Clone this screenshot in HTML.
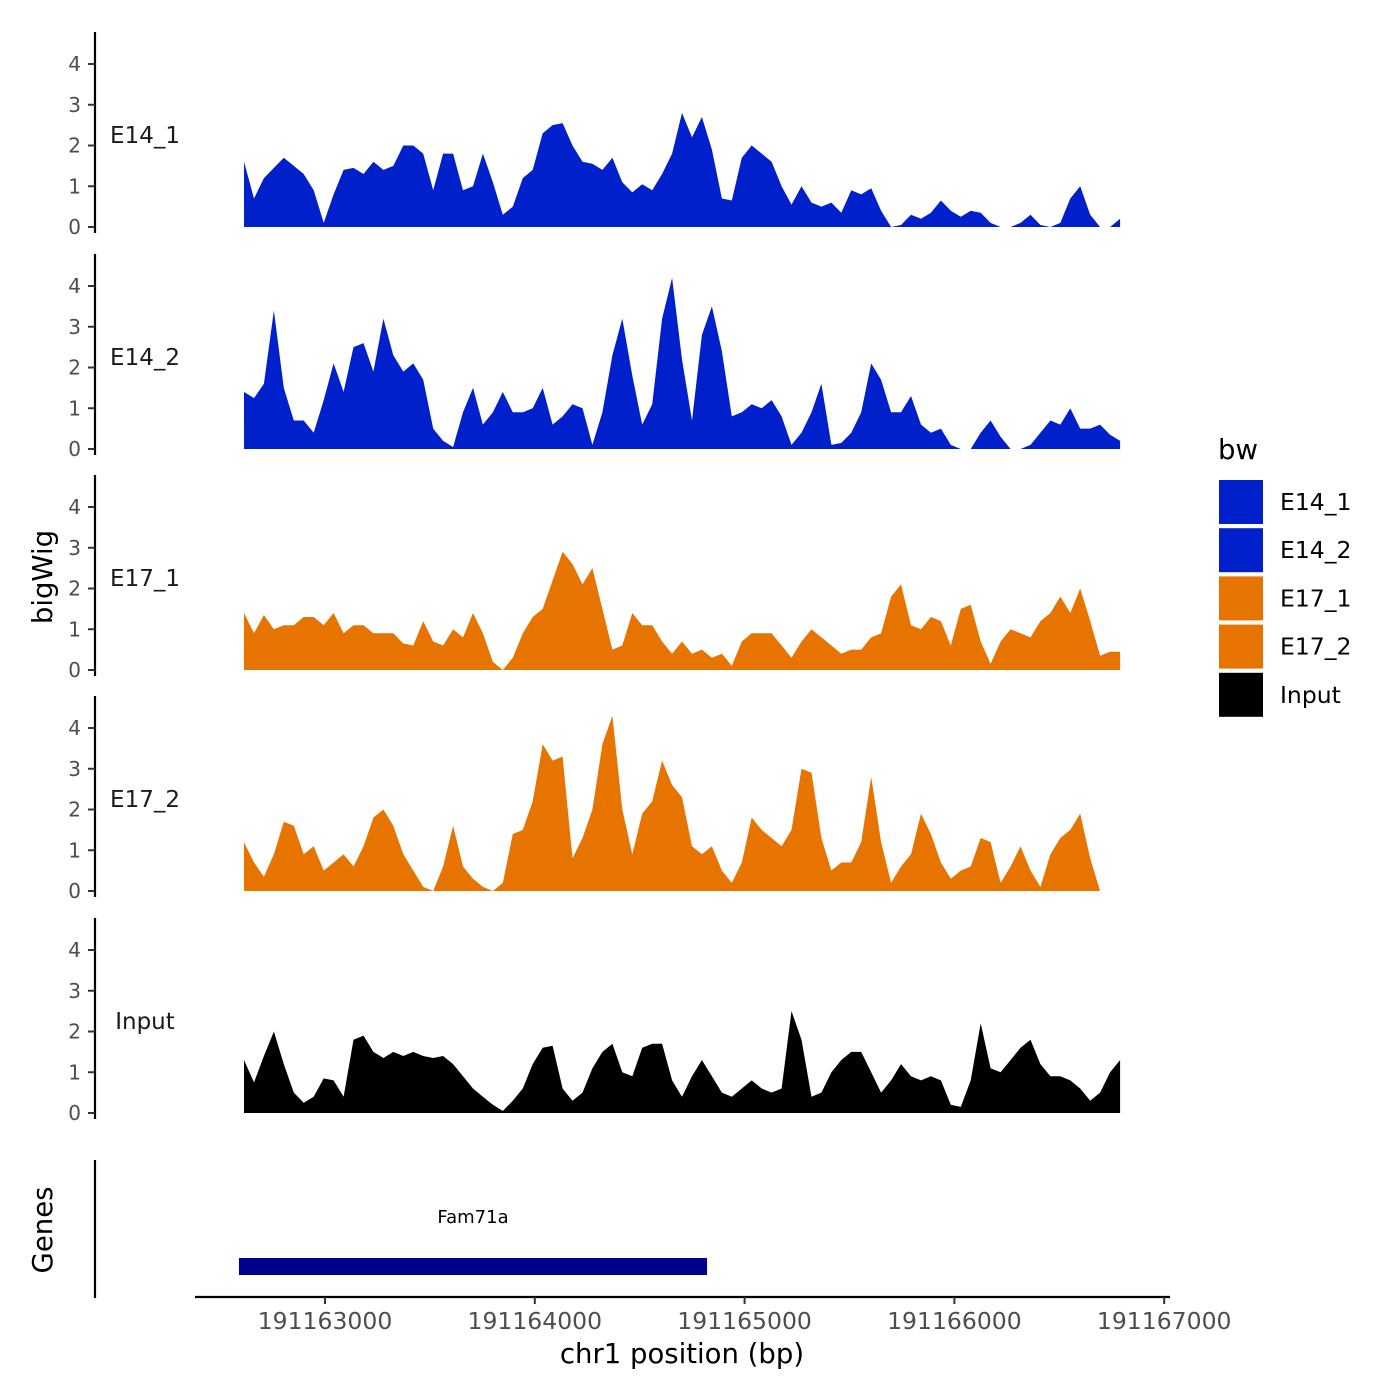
<!DOCTYPE html>
<html><head><meta charset="utf-8"><style>
body{margin:0;background:#fff}
svg{display:block;font-family:"DejaVu Sans","Liberation Sans",sans-serif}
</style></head><body>
<svg id="c" width="1400" height="1400" xmlns="http://www.w3.org/2000/svg"></svg>
<script>
const trackNames = ["E14_1","E14_2","E17_1","E17_2","Input"];
const trackColors = ["#0020CC","#0020CC","#E87400","#E87400","#000000"];
const xTicks = [191163000,191164000,191165000,191166000,191167000];
const yTicks = [0,1,2,3,4];
const startBp = 191162614;
const stepBp = 47.45;
const e14_1 = [1.6,0.7,1.2,1.45,1.7,1.5,1.3,0.9,0.1,0.8,1.4,1.45,1.3,1.6,1.4,1.5,2.0,2.0,1.8,0.9,1.8,1.8,0.9,1.0,1.8,1.1,0.3,0.5,1.2,1.4,2.3,2.5,2.55,2.0,1.6,1.55,1.4,1.7,1.1,0.85,1.05,0.9,1.3,1.8,2.8,2.2,2.7,1.9,0.7,0.65,1.7,2.0,1.8,1.6,1.0,0.55,1.0,0.6,0.5,0.6,0.35,0.9,0.8,0.95,0.4,0,0.05,0.3,0.2,0.35,0.65,0.4,0.25,0.4,0.35,0.1,0,0,0.1,0.3,0.05,0,0.1,0.7,1.0,0.3,0,0,0.2];
const e14_2 = [1.4,1.25,1.6,3.4,1.5,0.7,0.7,0.4,1.2,2.1,1.4,2.5,2.6,1.9,3.2,2.3,1.9,2.1,1.7,0.5,0.2,0.05,0.9,1.5,0.6,0.9,1.4,0.9,0.9,1.0,1.5,0.6,0.8,1.1,1.0,0.1,0.9,2.3,3.2,1.8,0.6,1.1,3.2,4.2,2.2,0.7,2.8,3.5,2.4,0.8,0.9,1.1,1.0,1.2,0.8,0.1,0.4,0.9,1.6,0.1,0.15,0.4,0.9,2.1,1.7,0.9,0.9,1.3,0.6,0.4,0.5,0.1,0,0,0.4,0.7,0.3,0,0,0.1,0.4,0.7,0.6,1.0,0.5,0.5,0.6,0.35,0.2];
const e17_1 = [1.4,0.9,1.35,1.0,1.1,1.1,1.3,1.3,1.1,1.4,0.9,1.1,1.1,0.9,0.9,0.9,0.65,0.6,1.2,0.7,0.6,1.0,0.8,1.4,0.9,0.2,0,0.3,0.9,1.3,1.5,2.2,2.9,2.6,2.1,2.5,1.5,0.5,0.6,1.4,1.1,1.1,0.7,0.4,0.7,0.4,0.5,0.3,0.4,0.1,0.7,0.9,0.9,0.9,0.6,0.3,0.7,1.0,0.8,0.6,0.4,0.5,0.5,0.8,0.9,1.8,2.1,1.1,1.0,1.3,1.2,0.6,1.5,1.6,0.7,0.15,0.7,1.0,0.9,0.8,1.2,1.4,1.8,1.4,2.0,1.2,0.35,0.45,0.45];
const e17_2 = [1.2,0.7,0.35,0.9,1.7,1.6,0.9,1.1,0.5,0.7,0.9,0.6,1.1,1.8,2.0,1.6,0.9,0.5,0.1,0,0.6,1.6,0.6,0.3,0.1,0,0.2,1.4,1.5,2.2,3.6,3.2,3.3,0.8,1.3,2.0,3.6,4.3,2.0,0.9,1.9,2.2,3.2,2.6,2.3,1.1,0.9,1.1,0.5,0.2,0.7,1.8,1.5,1.3,1.1,1.5,3.0,2.9,1.3,0.5,0.7,0.7,1.2,2.8,1.2,0.2,0.6,0.9,1.9,1.4,0.7,0.3,0.5,0.6,1.3,1.2,0.2,0.6,1.1,0.5,0.1,0.9,1.3,1.5,1.9,0.8,0,0,0];
const input = [1.3,0.75,1.4,2.0,1.2,0.5,0.25,0.4,0.85,0.8,0.4,1.8,1.9,1.5,1.35,1.5,1.4,1.5,1.4,1.35,1.4,1.2,0.9,0.6,0.4,0.2,0.05,0.3,0.6,1.2,1.6,1.65,0.6,0.3,0.5,1.1,1.5,1.7,1.0,0.9,1.6,1.7,1.7,0.8,0.4,0.9,1.3,0.9,0.5,0.4,0.6,0.8,0.6,0.5,0.6,2.5,1.8,0.4,0.5,1.0,1.3,1.5,1.5,1.0,0.5,0.8,1.2,0.9,0.8,0.9,0.8,0.2,0.15,0.8,2.2,1.1,1.0,1.3,1.6,1.8,1.2,0.9,0.9,0.8,0.6,0.3,0.5,1.0,1.3];
const series = [e14_1,e14_2,e17_1,e17_2,input];
const geneName = ["Fam71a"];
const geneStart = [191162590];
const geneEnd = [191164821];

const svg = document.getElementById('c');
const NS = "http://www.w3.org/2000/svg";
function mk(tag, attrs, parent){const e=document.createElementNS(NS,tag);for(const k in attrs)e.setAttribute(k,attrs[k]);(parent||svg).appendChild(e);return e;}
const xScale = bp => 325 + (bp - 191163000) * 0.2098;
const zeros = [227,449,670,891,1113];
const unit = 40.75;
const yScale = (t,v) => zeros[t] - v*unit;

series.forEach((vals,t)=>{
  const g = mk('g',{});
  
  
  const ax = mk('line',{x1:95,x2:95,y1:zeros[t]-195,y2:zeros[t]+6,stroke:'#000','stroke-width':2.2},g);
  
  
  yTicks.forEach(v=>{
    const y=yScale(t,v);
    const tk=mk('line',{x1:88,x2:95,y1:y,y2:y,stroke:'#333','stroke-width':2},g);
    
    
    const tl=mk('text',{x:81,y:y+7,'text-anchor':'end','font-size':20,fill:'#4d4d4d'},g);
    tl.textContent=v;
    
    
  });
  let d='M'+xScale(startBp)+','+zeros[t];
  vals.forEach((v,i)=>{d+=' L'+xScale(startBp+i*stepBp).toFixed(1)+','+yScale(t,v).toFixed(1);});
  d+=' L'+xScale(startBp+(vals.length-1)*stepBp).toFixed(1)+','+zeros[t]+' Z';
  const p=mk('path',{d:d,fill:trackColors[t]},g);
  
  
  const lb=mk('text',{x:145,y:zeros[t]-84,'text-anchor':'middle','font-size':23,fill:'#1a1a1a'},g);
  lb.textContent=trackNames[t];
  
  
});

const gl=mk('line',{x1:95,x2:95,y1:1160,y2:1298,stroke:'#000','stroke-width':2.2});


geneName.forEach((n,i)=>{
  const r=mk('rect',{x:xScale(geneStart[i]),y:1258,width:xScale(geneEnd[i])-xScale(geneStart[i]),height:17,fill:'#00008B'});
  
  
  const t=mk('text',{x:(xScale(geneStart[i])+xScale(geneEnd[i]))/2,y:1223,'text-anchor':'middle','font-size':18,fill:'#000'});
  t.textContent=n;
  
  
});

const xa=mk('line',{x1:195,x2:1170,y1:1297,y2:1297,stroke:'#000','stroke-width':2.2});


xTicks.forEach(v=>{
  const x=xScale(v);
  const tk=mk('line',{x1:x,x2:x,y1:1297,y2:1304,stroke:'#333','stroke-width':2});
  
  
  const tl=mk('text',{x:x,y:1329,'text-anchor':'middle','font-size':23.5,fill:'#4d4d4d'});
  tl.textContent=v;
  
  
});
const xt=mk('text',{x:682,y:1363,'text-anchor':'middle','font-size':27.5,fill:'#000'});
xt.textContent='chr1 position (bp)';


const yt=mk('text',{x:52,y:577,'text-anchor':'middle','font-size':27.5,fill:'#000',transform:'rotate(-90 52 577)'});
yt.textContent='bigWig';


const gt=mk('text',{x:52,y:1230,'text-anchor':'middle','font-size':27.5,fill:'#000',transform:'rotate(-90 52 1230)'});
gt.textContent='Genes';



const lt=mk('text',{x:1218,y:459,'font-size':27.5,fill:'#000'});
lt.textContent='bw';


trackNames.forEach((n,i)=>{
  const y=480+i*48.2;
  const r=mk('rect',{x:1219,y:y,width:44,height:44,fill:trackColors[i]});
  
  
  const t=mk('text',{x:1280,y:y+30,'font-size':23.5,fill:'#000'});
  t.textContent=n;
  
  
});
</script>
</body></html>
